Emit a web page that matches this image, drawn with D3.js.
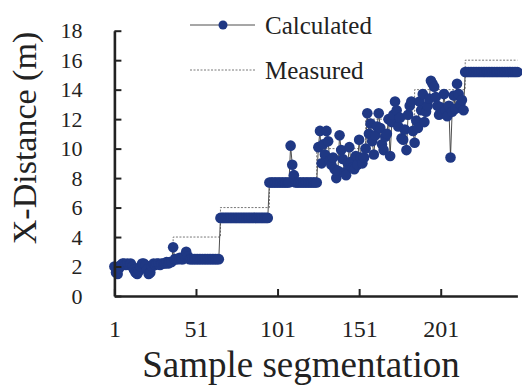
<!DOCTYPE html>
<html>
<head>
<meta charset="utf-8">
<script src="https://cdn.jsdelivr.net/npm/d3@7"></script>
<style>
  body { margin: 0; background: #fff; }
  svg { display: block; }
</style>
</head>
<body>
<svg id="chart" width="522" height="385"></svg>
<script>
// calculated x-distance, one value per sample (1..248), split by stage
const calcStage1 = [2.0, 1.6, 1.5, 1.9, 2.1, 2.2, 2.2, 2.1, 2.2, 2.1, 2.2, 2.0, 1.8, 1.6, 1.5, 1.7, 2.0, 2.2,
  2.2, 2.1, 1.8, 1.5, 1.6, 2.0, 2.2, 2.1, 2.2, 2.2, 2.1, 2.2, 2.2, 2.2, 2.3, 2.2, 2.3, 2.3];
const calcStage2 = [3.3, 2.5, 2.5, 2.5, 2.6, 2.5, 2.5, 2.7, 3.0, 2.7, 2.5, 2.5, 2.5, 2.5, 2.5, 2.5, 2.5,
  2.5, 2.5, 2.5, 2.5, 2.5, 2.5, 2.5, 2.5, 2.5, 2.5, 2.5, 2.5];
const calcStage3 = [5.3, 5.3, 5.3, 5.3, 5.3, 5.3, 5.3, 5.3, 5.3, 5.3, 5.3, 5.3, 5.3, 5.3, 5.3, 5.3, 5.3,
  5.3, 5.3, 5.3, 5.3, 5.3, 5.3, 5.3, 5.3, 5.3, 5.3, 5.3, 5.3, 5.3];
const calcStage4 = [7.7, 7.7, 7.7, 7.7, 7.7, 7.7, 7.7, 7.7, 7.7, 7.7, 7.7, 7.7, 7.7, 10.2, 8.9, 8.2, 7.7,
  7.7, 7.7, 7.7, 7.7, 7.7, 7.7, 7.7, 7.7, 7.7, 7.7, 7.7, 7.7, 7.7];
const calcStage5 = [
  10.1, 11.2, 9.0, 10.3, 9.6, 11.2, 10.5, 9.2, 8.9, 9.4,
  8.6, 8.0, 8.5, 10.9, 9.9, 9.3, 8.4, 8.2, 9.0, 10.1,
  9.1, 8.7, 8.6, 9.5, 8.9, 10.6, 9.4, 9.0, 9.4, 10.0,
  12.4, 11.0, 11.7, 10.5, 9.6, 10.9, 11.5, 12.4, 11.4, 10.3,
  9.9, 10.8, 11.0, 12.0, 9.5, 11.8, 12.3, 13.2, 12.6, 11.5,
  12.1, 10.7, 10.6, 11.3, 9.9, 12.3, 12.9, 13.2, 11.2, 10.4,
  11.9, 11.4, 13.2, 12.6, 13.7, 11.8, 12.5, 12.9, 13.4, 14.6,
  14.4, 14.2, 13.5, 12.9, 12.3, 12.8, 12.4, 13.7, 12.6, 12.2,
  12.9, 9.4, 12.5, 13.6, 12.7, 14.4, 13.7, 13.0, 13.3, 12.6];
const calcStage6 = [15.2, 15.2, 15.2, 15.2, 15.2, 15.2, 15.2, 15.2, 15.2, 15.2, 15.2, 15.2, 15.2, 15.2,
  15.2, 15.2, 15.2, 15.2, 15.2, 15.2, 15.2, 15.2, 15.2, 15.2, 15.2, 15.2, 15.2, 15.2, 15.2, 15.2, 15.2,
  15.2, 15.2];

// measured distance: step levels and the sample where each starts
const measuredStart = [1, 37, 66, 96, 125, 155, 185, 216];
const measuredLevel = [2, 4, 6, 8, 10, 12, 14, 16];
const lastSample = 248;

const xTicks = [1, 51, 101, 151, 201];
const yTicks = [0, 2, 4, 6, 8, 10, 12, 14, 16, 18];

const serif = '"Liberation Serif"';
const ink = '#222';

const calculated = [].concat(calcStage1, calcStage2, calcStage3, calcStage4, calcStage5, calcStage6)
  .map((v, i) => ({ s: i + 1, v }));
const measured = measuredStart.map((s, i) => ({ s, v: measuredLevel[i] }));
measured.push({ s: lastSample, v: measuredLevel[measuredLevel.length - 1] });

const svg = d3.select('#chart');

const x = d3.scaleLinear().domain([1, lastSample]).range([114.4, 517.4]);
const y = d3.scaleLinear().domain([0, 18]).range([296, 30.7]);

// measured step line (under the dots)
svg.append('path')
  .datum(measured)
  .attr('fill', 'none')
  .attr('stroke', '#555')
  .attr('stroke-width', 0.8)
  .attr('stroke-dasharray', '2,1.5')
  .attr('d', d3.line().x(d => x(d.s)).y(d => y(d.v)).curve(d3.curveStepAfter));

// calculated line + dots
svg.append('path')
  .datum(calculated)
  .attr('fill', 'none')
  .attr('stroke', '#3a3a3a')
  .attr('stroke-width', 0.9)
  .attr('d', d3.line().x(d => x(d.s)).y(d => y(d.v)));

svg.append('g')
  .selectAll('circle')
  .data(calculated)
  .join('circle')
  .attr('cx', d => x(d.s))
  .attr('cy', d => y(d.v))
  .attr('r', 5.3)
  .attr('fill', '#1f3884');

// axes
const yAxis = svg.append('g')
  .attr('transform', `translate(${x(1)},0)`)
  .call(d3.axisLeft(y).tickValues(yTicks).tickSizeInner(-7).tickSizeOuter(0).tickPadding(32));
yAxis.attr('font-family', null).attr('font-size', null);
yAxis.selectAll('text').style('font-family', serif).style('font-size', '22px');

const xAxis = svg.append('g')
  .attr('transform', `translate(0,${y(0)})`)
  .call(d3.axisBottom(x).tickValues(xTicks).tickFormat(d3.format('d')).tickSizeInner(-7).tickSizeOuter(0).tickPadding(24));
xAxis.attr('font-family', null).attr('font-size', null);
xAxis.selectAll('text').style('font-family', serif).style('font-size', '24px');

svg.selectAll('.domain').attr('stroke', ink).attr('stroke-width', 2.6);
svg.selectAll('.tick line').attr('stroke', ink).attr('stroke-width', 2);
svg.selectAll('.tick text').attr('fill', ink);

// axis titles
svg.append('text')
  .attr('transform', 'translate(36,138) rotate(-90)')
  .attr('text-anchor', 'middle')
  .style('font-family', serif).style('font-size', '34px')
  .attr('fill', ink)
  .text('X-Distance (m)');

svg.append('text')
  .attr('x', 301)
  .attr('y', 377)
  .attr('text-anchor', 'middle')
  .style('font-family', serif).style('font-size', '37px')
  .attr('fill', ink)
  .text('Sample segmentation');

// legend
const legend = svg.append('g');
legend.append('line')
  .attr('x1', 190).attr('x2', 255).attr('y1', 25).attr('y2', 25)
  .attr('stroke', '#3a3a3a').attr('stroke-width', 0.9);
legend.append('circle')
  .attr('cx', 223).attr('cy', 25).attr('r', 4.5).attr('fill', '#1f3884');
legend.append('text')
  .attr('x', 265).attr('y', 34)
  .style('font-family', serif).style('font-size', '25px')
  .attr('fill', ink)
  .text('Calculated');
legend.append('line')
  .attr('x1', 190).attr('x2', 255).attr('y1', 70).attr('y2', 70)
  .attr('stroke', '#555').attr('stroke-width', 0.8).attr('stroke-dasharray', '2,1.5');
legend.append('text')
  .attr('x', 265).attr('y', 79)
  .style('font-family', serif).style('font-size', '25px')
  .attr('fill', ink)
  .text('Measured');
</script>
</body>
</html>
